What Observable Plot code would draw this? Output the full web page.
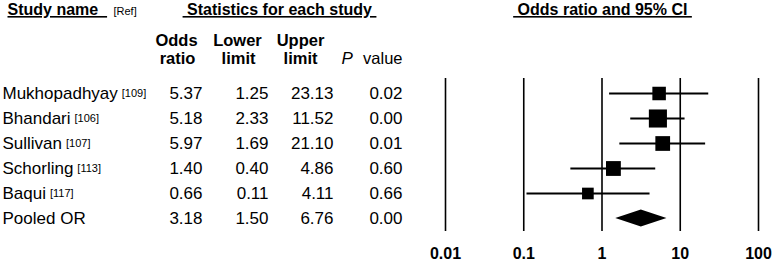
<!DOCTYPE html>
<html><head><meta charset="utf-8">
<script src="https://cdn.jsdelivr.net/npm/d3@7"></script>
<script src="https://cdn.jsdelivr.net/npm/@observablehq/plot@0.6"></script>
<style>
html,body{margin:0;padding:0;background:#fff;}
</style></head><body><div id="chart"></div>
<script>
// ---- data ----
const studies = ["Mukhopadhyay", "Bhandari", "Sullivan", "Schorling", "Baqui"];
const refs = ["[109]", "[106]", "[107]", "[113]", "[117]"];
const oddsRatio = [5.37, 5.18, 5.97, 1.40, 0.66];
const lowerLimit = [1.25, 2.33, 1.69, 0.40, 0.11];
const upperLimit = [23.13, 11.52, 21.10, 4.86, 4.11];
const pValue = [0.02, 0.00, 0.01, 0.60, 0.66];
const pooledLabel = "Pooled OR";
const pooledValues = [3.18, 1.50, 6.76, 0.00]; // OR, lower, upper, P
const xTicks = [0.01, 0.1, 1, 10, 100];
const xTickLabels = ["0.01", "0.1", "1", "10", "100"];

// ---- random-effects (DerSimonian-Laird) weights from the CIs: box area ∝ weight ----
const yi = oddsRatio.map(Math.log);
const vi = lowerLimit.map((lo, i) => Math.pow((Math.log(upperLimit[i]) - Math.log(lo)) / (2 * 1.959964), 2));
const wf = vi.map(v => 1 / v);
const sw = d3.sum(wf);
const ybar = d3.sum(wf.map((w, i) => w * yi[i])) / sw;
const Q = d3.sum(wf.map((w, i) => w * (yi[i] - ybar) ** 2));
const C = sw - d3.sum(wf.map(w => w * w)) / sw;
const tau2 = Math.max(0, (Q - (studies.length - 1)) / C);
const wr = vi.map(v => 1 / (v + tau2));

const studyRows = studies.map((name, i) => ({
  name, ref: refs[i], or: oddsRatio[i], lo: lowerLimit[i], hi: upperLimit[i], p: pValue[i], w: wr[i]
}));
const pooledRow = {name: pooledLabel, or: pooledValues[0], lo: pooledValues[1], hi: pooledValues[2], p: pooledValues[3]};
const allRows = [...studyRows, pooledRow];
const rowDomain = allRows.map(d => d.name);

// ---- layout / style ----
const FONT = "Arial, 'Liberation Sans', sans-serif";
const FS = 17, FSB = 16.5, FST = 16, FSR = 11;
const colRight = {or: 202, lo: 268, hi: 333, p: 402};
const ctx = document.createElement("canvas").getContext("2d");
ctx.font = `${FS}px ${FONT}`;
const MT = 78;

const headerText = (txt, dx, dy, anchor, opts = {}) =>
  Plot.text([txt], {text: d => d, frameAnchor: "top-left", dx, dy, textAnchor: anchor, lineAnchor: "bottom",
    fontWeight: "bold", fontSize: FSB, ...opts});

const marks = [
  Plot.ruleX(xTicks, {x: d => d, stroke: "black", strokeWidth: 1.6}),
  Plot.text(xTicks, {x: d => d, text: (d, i) => xTickLabels[i], frameAnchor: "bottom", dy: 27,
    lineAnchor: "bottom", fontWeight: "bold", fontSize: 16}),
  Plot.ruleY(studyRows, {y: "name", x1: "lo", x2: "hi", stroke: "black", strokeWidth: 2}),
  Plot.dot(studyRows, {x: "or", y: "name", r: "w", symbol: "square", fill: "black", stroke: null}),
  (index, scales) => {
    const x = scales.x, y = scales.y, cy = y(pooledLabel), h = 8.5;
    return d3.create("svg:path")
      .attr("d", `M${x(pooledRow.lo)},${cy}L${x(pooledRow.or)},${cy - h}L${x(pooledRow.hi)},${cy}L${x(pooledRow.or)},${cy + h}Z`)
      .attr("fill", "black").node();
  },
  // table body
  Plot.text(allRows, {y: "name", text: "name", frameAnchor: "left", dx: 2, textAnchor: "start", fontSize: FS}),
  ...studyRows.map(r => Plot.text([r], {y: "name", text: "ref", frameAnchor: "left",
    dx: 2 + ctx.measureText(r.name).width + 4, textAnchor: "start", fontSize: FSR})),
  Plot.text(allRows, {y: "name", text: d => d.or.toFixed(2), frameAnchor: "left", dx: colRight.or, textAnchor: "end", fontSize: FS}),
  Plot.text(allRows, {y: "name", text: d => d.lo.toFixed(2), frameAnchor: "left", dx: colRight.lo, textAnchor: "end", fontSize: FS}),
  Plot.text(allRows, {y: "name", text: d => d.hi.toFixed(2), frameAnchor: "left", dx: colRight.hi, textAnchor: "end", fontSize: FS}),
  Plot.text(allRows, {y: "name", text: d => d.p.toFixed(2), frameAnchor: "left", dx: colRight.p, textAnchor: "end", fontSize: FS}),
  // headers
  headerText("Study name\u00a0\u00a0", 7, 14.5 - MT, "start", {fontSize: FST}),
  headerText("[Ref]", 113, 14.5 - MT, "start", {fontWeight: "normal", fontSize: FSR}),
  headerText("\u00a0Statistics for each study\u00a0", 279, 14.5 - MT, "middle", {fontSize: FST}),
  headerText("\u00a0Odds ratio and 95% CI\u00a0", 602, 14.5 - MT, "middle", {fontSize: FST}),
  headerText("Odds", 176, 45 - MT, "middle"),
  headerText("ratio", 177, 63 - MT, "middle"),
  headerText("Lower", 237, 45 - MT, "middle"),
  headerText("limit", 238, 63 - MT, "middle"),
  headerText("Upper", 300, 45 - MT, "middle"),
  headerText("limit", 300, 63 - MT, "middle"),
  headerText("P", 341, 63 - MT, "start", {fontWeight: "normal", fontStyle: "italic", fontSize: FS}),
  headerText("value", colRight.p, 63 - MT, "end", {fontWeight: "normal", fontSize: 16.5})
];

const chart = Plot.plot({
  width: 772, height: 261,
  marginTop: MT, marginBottom: 30, marginLeft: 0, marginRight: 0,
  x: {type: "log", domain: [0.01, 100], range: [445, 758], axis: null},
  y: {type: "point", domain: rowDomain, range: [91, 219], padding: 0, axis: null},
  r: {type: "sqrt", domain: [0, d3.max(wr)], range: [0, 10.2]},
  style: {fontFamily: FONT, fontSize: "16px", color: "black", background: "white"},
  marks
});

d3.select(chart).selectAll("text")
  .filter(function () { return /Study name|Statistics for each study|Odds ratio and 95% CI/.test(this.textContent); })
  .style("text-decoration", "underline");

document.getElementById("chart").appendChild(chart);
</script></body></html>
